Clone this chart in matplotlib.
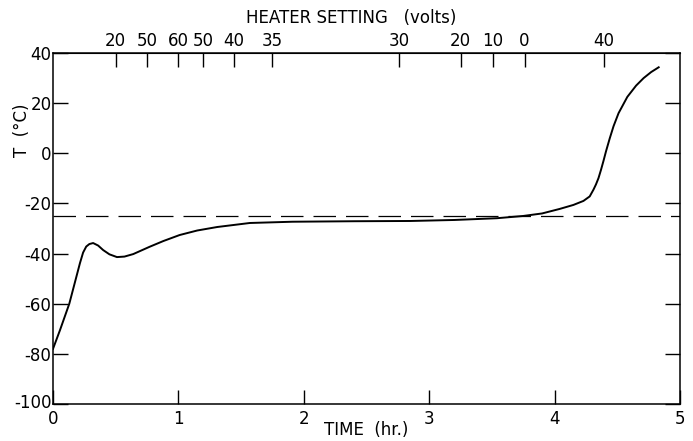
import matplotlib
matplotlib.use("Agg")
import matplotlib.pyplot as plt
import matplotlib.transforms as mtransforms

plt.rcParams["axes.unicode_minus"] = False

# temperature trace
time_hr = [0.0, 0.056, 0.13, 0.215, 0.24, 0.265, 0.29, 0.32, 0.36, 0.40,
           0.45, 0.51, 0.57, 0.64, 0.77, 0.88, 1.01, 1.15, 1.31, 1.57,
           1.91, 2.4, 2.85, 3.2, 3.54, 3.75, 3.9, 4.04, 4.15, 4.23,
           4.28, 4.31, 4.33, 4.35, 4.37, 4.39, 4.41, 4.44, 4.47, 4.51,
           4.58, 4.65, 4.71, 4.77, 4.83]
temp_c = [-78, -70.5, -60, -43.8, -39.6, -37.2, -36.2, -35.8, -36.8, -38.6,
          -40.3, -41.4, -41.2, -40.2, -37.3, -35.0, -32.6, -30.8, -29.4, -27.8,
          -27.3, -27.1, -27.0, -26.6, -25.9, -25.0, -24.0, -22.2, -20.6, -19.0,
          -17.2, -14.5, -12.4, -9.9, -6.6, -3.0, 0.8, 6.0, 10.8, 16.0,
          22.5, 27.0, 30.0, 32.4, 34.3]
ref_temp = -25.0

# heater setting changes (top axis)
heater_time = [0.50, 0.75, 1.00, 1.20, 1.44, 1.75, 2.76, 3.25, 3.51, 3.76, 4.39]
heater_volts = ["20", "50", "60", "50", "40", "35", "30", "20", "10", "0", "40"]

fig = plt.figure(figsize=(6.93, 4.41), dpi=100)
ax = fig.add_axes([53 / 693, 1 - 404 / 441, 627 / 693, 351 / 441])

ax.plot(time_hr, temp_c, color="black", lw=1.4)
ax.axhline(ref_temp, color="black", lw=0.9, dashes=(18, 8))

ax.set_xlim(0, 5)
ax.set_ylim(-100, 40)
ax.set_xticks([0, 1, 2, 3, 4, 5])
ax.set_yticks([-100, -80, -60, -40, -20, 0, 20, 40])
ax.tick_params(axis="x", direction="in", length=10, width=1, labelsize=12, pad=4)
ax.tick_params(axis="y", direction="in", length=11, width=1, labelsize=12,
               right=True, pad=1)
for s in ax.spines.values():
    s.set_linewidth(1.1)

# lift the bottom y label a touch so it clears the "0" below it
lowest = ax.get_yticklabels()[0]
lowest.set_transform(lowest.get_transform() +
                     mtransforms.ScaledTranslation(0, 3 / 100, fig.dpi_scale_trans))

top = ax.secondary_xaxis("top")
top.set_xticks(heater_time)
top.set_xticklabels(heater_volts)
top.tick_params(direction="in", length=10, width=1, labelsize=12, pad=2)

fig.text(366 / 693, 1 - 430 / 441, "TIME  (hr.)", fontsize=12,
         ha="center", va="center")
fig.text(351 / 693, 1 - 18 / 441, "HEATER SETTING   (volts)", fontsize=12,
         ha="center", va="center")
fig.text(22 / 693, 1 - 130 / 441, "T  (°C)", fontsize=12, rotation=90,
         ha="center", va="center")

fig.savefig("out.png", dpi=100)
